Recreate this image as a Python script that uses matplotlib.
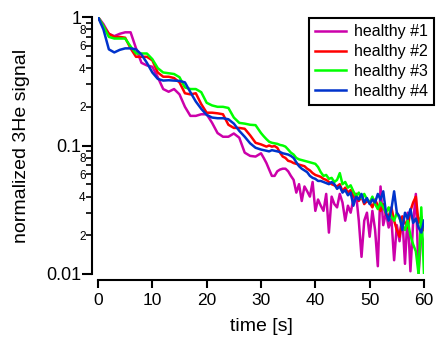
import numpy as np
import matplotlib
matplotlib.use('Agg')
import matplotlib.pyplot as plt
from matplotlib.ticker import FixedLocator, FixedFormatter, LogLocator, FuncFormatter, MultipleLocator

plt.rcParams['font.family'] = ['Liberation Sans', 'DejaVu Sans']

# time grid: 1 s steps up to 30 s, 0.5 s steps afterwards
t = np.concatenate([np.arange(0, 31), np.arange(30.5, 60.5, 0.5)])

labels = ['healthy #1', 'healthy #2', 'healthy #3', 'healthy #4']
colors = ['#cc00aa', '#ff0000', '#00ff00', '#0033cc']

healthy1 = [1.0, 0.88, 0.74, 0.71, 0.74, 0.76, 0.76, 0.57, 0.44, 0.42,
            0.41, 0.34, 0.275, 0.262, 0.275, 0.25, 0.2, 0.17, 0.17, 0.175,
            0.175, 0.15, 0.125, 0.117, 0.117, 0.124, 0.115, 0.088, 0.083, 0.082,
            0.087,
            0.08, 0.073, 0.065, 0.058, 0.058, 0.063, 0.065, 0.066, 0.066, 0.063,
            0.058, 0.054, 0.043, 0.05, 0.037, 0.048, 0.044, 0.04, 0.052, 0.031,
            0.038, 0.034, 0.031, 0.042, 0.021, 0.04, 0.035, 0.033, 0.042, 0.036,
            0.026, 0.034, 0.03, 0.038, 0.042, 0.026, 0.0136, 0.026, 0.03, 0.0195,
            0.031, 0.022, 0.0115, 0.048, 0.024, 0.03, 0.023, 0.027, 0.0128, 0.024,
            0.018, 0.028, 0.012, 0.03, 0.0105, 0.025, 0.042, 0.01, 0.02, 0.017]

healthy2 = [1.0, 0.85, 0.74, 0.70, 0.70, 0.69, 0.57, 0.49, 0.49, 0.49,
            0.46, 0.37, 0.343, 0.343, 0.335, 0.31, 0.255, 0.25, 0.255, 0.21,
            0.18, 0.18, 0.178, 0.175, 0.145, 0.137, 0.137, 0.135, 0.12, 0.105,
            0.102,
            0.1, 0.098, 0.1, 0.098, 0.099, 0.096, 0.088, 0.082, 0.08, 0.076,
            0.075, 0.073, 0.072, 0.071, 0.07, 0.069, 0.066, 0.064, 0.061, 0.059,
            0.058, 0.057, 0.055, 0.054, 0.052, 0.05, 0.049, 0.048, 0.05, 0.044,
            0.047, 0.043, 0.045, 0.04, 0.042, 0.037, 0.04, 0.035, 0.037, 0.036,
            0.033, 0.038, 0.034, 0.031, 0.035, 0.029, 0.028, 0.033, 0.026, 0.022,
            0.0195, 0.028, 0.025, 0.023, 0.031, 0.036, 0.04, 0.025, 0.028, 0.022]

healthy3 = [1.0, 0.85, 0.7, 0.68, 0.68, 0.68, 0.59, 0.52, 0.52, 0.52,
            0.47, 0.4, 0.37, 0.365, 0.36, 0.34, 0.283, 0.275, 0.275, 0.26,
            0.215, 0.205, 0.2, 0.2, 0.196, 0.165, 0.15, 0.148, 0.145, 0.144,
            0.125,
            0.118, 0.112, 0.107, 0.105, 0.104, 0.103, 0.101, 0.1, 0.098, 0.093,
            0.088, 0.085, 0.08, 0.078, 0.077, 0.076, 0.075, 0.074, 0.073, 0.072,
            0.068, 0.062, 0.058, 0.059, 0.055, 0.056, 0.052, 0.054, 0.061, 0.05,
            0.052, 0.047, 0.049, 0.044, 0.04, 0.043, 0.039, 0.042, 0.038, 0.036,
            0.04, 0.035, 0.032, 0.036, 0.033, 0.03, 0.033, 0.028, 0.026, 0.03,
            0.027, 0.024, 0.022, 0.026, 0.02, 0.017, 0.015, 0.01, 0.033, 0.01]

healthy4 = [1.0, 0.8, 0.56, 0.53, 0.555, 0.57, 0.57, 0.56, 0.51, 0.44,
            0.37, 0.33, 0.32, 0.322, 0.32, 0.318, 0.31, 0.26, 0.22, 0.193,
            0.173, 0.165, 0.163, 0.163, 0.16, 0.148, 0.13, 0.117, 0.104, 0.096,
            0.093,
            0.092, 0.091, 0.09, 0.092, 0.091, 0.09, 0.089, 0.087, 0.086, 0.085,
            0.083, 0.08, 0.074, 0.069, 0.066, 0.064, 0.062, 0.058, 0.056, 0.055,
            0.053, 0.053, 0.052, 0.051, 0.05, 0.052, 0.05, 0.046, 0.048, 0.043,
            0.045, 0.041, 0.043, 0.034, 0.04, 0.038, 0.042, 0.036, 0.039, 0.035,
            0.038, 0.036, 0.042, 0.038, 0.044, 0.03, 0.026, 0.032, 0.044, 0.03,
            0.028, 0.022, 0.03, 0.027, 0.032, 0.025, 0.027, 0.023, 0.021, 0.026]

series = [healthy1, healthy2, healthy3, healthy4]

fig = plt.figure(figsize=(4.36, 3.43), dpi=100)
ax = fig.add_axes([98 / 436, 1 - 274 / 343, 326 / 436, 257 / 343])

for y, c, lab in zip(series, colors, labels):
    ax.plot(t, y, color=c, lw=1.8, label=lab)

ax.set_yscale('log')
ax.set_ylim(0.01, 1)
ax.set_xlim(0, 60)

for s in ['top', 'right']:
    ax.spines[s].set_visible(False)
for s in ['left', 'bottom']:
    ax.spines[s].set_position(('outward', 4))
    ax.spines[s].set_linewidth(1.5)

ax.yaxis.set_major_locator(FixedLocator([0.01, 0.1, 1]))
ax.yaxis.set_major_formatter(FixedFormatter(['0.01', '0.1', '1']))
ax.yaxis.set_minor_locator(LogLocator(base=10, subs=range(2, 10)))


def minor_fmt(v, pos):
    d = int(round(v / 10 ** np.floor(np.log10(v) + 1e-9)))
    return str(d) if d in (2, 4, 6, 8) else ''


ax.yaxis.set_minor_formatter(FuncFormatter(minor_fmt))
ax.xaxis.set_major_locator(MultipleLocator(10))

ax.tick_params(axis='y', which='major', length=7, width=1.5, labelsize=13, pad=1)
ax.tick_params(axis='y', which='minor', length=4, width=1.2, labelsize=8.5, pad=1)
ax.tick_params(axis='x', which='major', length=6, width=1.5, labelsize=12.5, pad=4)

ax.set_xlabel('time [s]', fontsize=14, labelpad=7)
ax.set_ylabel('normalized 3He signal', fontsize=14, labelpad=12)

leg = ax.legend(loc='upper right', bbox_to_anchor=(434 / 436, 1 - 18 / 343),
                bbox_transform=fig.transFigure, fontsize=11.5, frameon=True,
                fancybox=False, edgecolor='black', framealpha=1,
                borderaxespad=0, handlelength=1.9, handletextpad=0.5,
                labelspacing=0.3, borderpad=0.4)
leg.get_frame().set_linewidth(1.5)

fig.savefig('out.png', dpi=100)
